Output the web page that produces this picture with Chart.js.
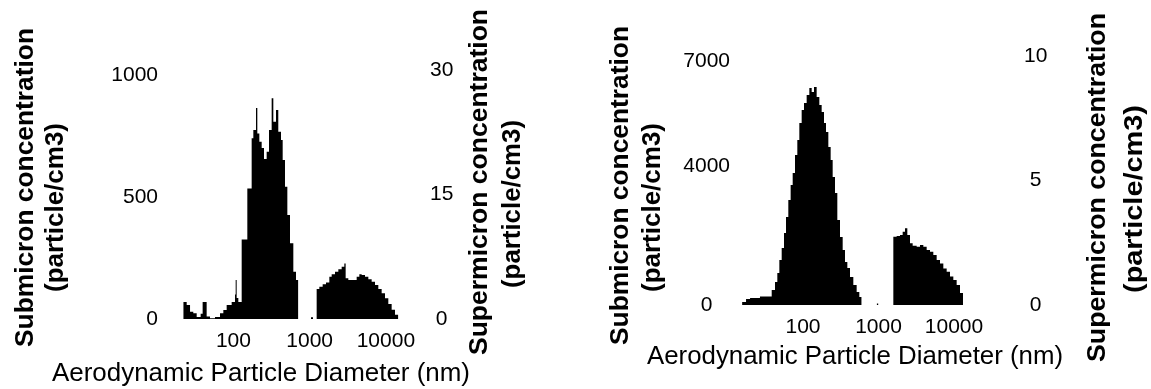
<!DOCTYPE html>
<html>
<head>
<meta charset="utf-8">
<title>Particle size distributions</title>
<script src="https://cdn.jsdelivr.net/npm/chart.js@4.4.1/dist/chart.umd.min.js"></script>
<style>
  html, body { margin: 0; padding: 0; background: #fff; }
  body { width: 1151px; height: 389px; position: relative; overflow: hidden; }
  canvas { position: absolute; top: 0; }
  #leftPanel { left: 0; }
  #rightPanel { left: 575px; }
</style>
</head>
<body>
<canvas id="leftPanel" width="575" height="389"></canvas>
<canvas id="rightPanel" width="576" height="389"></canvas>
<script>
// --- data: bin left edges (nm) and concentrations ---
const xTicks = [100, 1000, 10000];

// left panel
const p1SubD = [22.0, 24.4, 27.0, 29.8, 33.0, 37.2, 39.5, 44.6, 49.3, 57.4, 66.7, 73.8, 81.6, 94.9, 105, 107.1, 110.4, 116.1, 128.4, 152.3, 173.6, 182.6, 197.9, 206, 218.9, 234.9, 251.9, 273.1, 293.1, 317.6, 334, 362, 388, 421, 443, 475, 510, 553, 611, 662, 711];
const p1SubN = [70, 57, 30, 24, 8, 21, 70, 10, 3, 8, 24, 37, 57, 70, 100, 160, 86, 70, 326, 535, 740, 774, 864, 760, 726, 700, 655, 685, 774, 904, 808, 856, 767, 733, 651, 542, 426, 310, 194, 160, 0];
const p1SupD = [1041, 1107, 1236, 1340, 1482, 1638, 1812, 1945, 2150, 2378, 2630, 2850, 2967, 3216, 3557, 4138, 4483, 4812, 5320, 5884, 6507, 7195, 7956, 8800, 9732, 10760, 11900, 13165, 14555];
const p1SupN = [0.2, 0, 3.6, 3.9, 4.2, 4.4, 5.1, 5.4, 5.7, 6.0, 6.3, 6.7, 4.9, 4.7, 4.7, 5.1, 5.4, 5.3, 5.1, 4.8, 4.5, 4.1, 3.6, 3.1, 2.5, 1.8, 1.1, 0.5, 0];
const p1LeftTicks = [0, 500, 1000];
const p1RightTicks = [0, 15, 30];

// right panel
const p2SubD = [15.6, 17.6, 19.9, 26.9, 38.5, 42.6, 45.7, 48.6, 52.2, 56.0, 59.5, 63.9, 68.6, 73.0, 78.3, 84.1, 89.4, 96.0, 103.1, 111.8, 121.3, 130.3, 139.8, 151.7, 164.6, 176.7, 189.7, 201.6, 216.6, 232.5, 247.2, 265.3, 284.9, 309.2, 335.4, 360.0, 386.6, 419.3, 464.1, 513.8, 557.3, 598.6];
const p2SubN = [86, 172, 201, 244, 431, 661, 919, 1292, 1637, 2068, 2527, 3016, 3446, 3791, 4308, 4739, 5227, 5600, 5801, 6031, 6232, 6117, 6261, 5974, 5744, 5543, 5227, 4969, 4538, 4164, 3676, 3217, 2441, 1953, 1580, 1235, 1063, 804, 574, 373, 230, 0];
const p2SupD = [946, 991, 1572, 1740, 1927, 2090, 2244, 2409, 2614, 2835, 3203, 3545, 3925, 4345, 4810, 5323, 5894, 6523, 7223, 7997, 8852, 9799, 10847, 12010, 13160];
const p2SupN = [0.06, 0, 2.74, 2.77, 2.81, 2.94, 3.08, 2.81, 2.48, 2.38, 2.34, 2.41, 2.34, 2.21, 2.14, 2.01, 1.81, 1.67, 1.47, 1.34, 1.14, 1.0, 0.8, 0.48, 0];
const p2LeftTicks = [0, 4000, 7000];
const p2RightTicks = [0, 5, 10];

const FONT = '"Liberation Sans", Arial, sans-serif';

function toPoints(d, n) {
    return d.map((v, i) => ({ x: v, y: n[i] }));
}

// axis titles are drawn by hand: the reference has both y titles reading bottom-to-top
const panelTitles = {
    id: 'panelTitles',
    afterDraw(chart, args, opts) {
        const ctx = chart.ctx;
        (opts.items || []).forEach(t => {
            ctx.save();
            ctx.font = (t.bold ? 'bold ' : '') + t.size + 'px ' + FONT;
            ctx.fillStyle = '#000';
            ctx.textAlign = 'center';
            ctx.textBaseline = 'alphabetic';
            ctx.translate(t.x, t.y);
            if (t.rotate) ctx.rotate(-Math.PI / 2);
            const w = ctx.measureText(t.text).width;
            ctx.scale(t.len / w, 1); // stretch to the length seen in the picture
            ctx.fillText(t.text, 0, 0);
            ctx.restore();
        });
    }
};

function histStyle(color) {
    return {
        stepped: true,
        fill: 'start',
        backgroundColor: color,
        borderColor: 'rgba(0,0,0,0)',
        borderWidth: 0,
        pointRadius: 0,
        pointHoverRadius: 0,
        pointHitRadius: 0
    };
}

function makePanel(id, p) {
    const tickFont = { family: FONT, size: 21 };
    return new Chart(document.getElementById(id), {
        type: 'line',
        data: {
            datasets: [
                Object.assign({ label: 'Submicron', data: toPoints(p.subD, p.subN), yAxisID: 'y' }, histStyle('#000')),
                Object.assign({ label: 'Supermicron', data: toPoints(p.supD, p.supN), yAxisID: 'y1' }, histStyle('#000'))
            ]
        },
        options: {
            responsive: false,
            animation: false,
            events: [],
            layout: { padding: { top: p.top, left: 0, right: 0, bottom: 0 }, autoPadding: false },
            plugins: {
                legend: { display: false },
                tooltip: { enabled: false },
                panelTitles: { items: p.titles }
            },
            scales: {
                x: {
                    type: 'logarithmic',
                    min: p.xMin,
                    max: p.xMax,
                    afterBuildTicks: s => { s.ticks = xTicks.map(v => ({ value: v })); },
                    afterFit: s => { s.height = p.xH; },
                    grid: { display: false, drawTicks: false },
                    border: { display: false },
                    ticks: {
                        autoSkip: false, maxRotation: 0, padding: 10,
                        color: '#000', font: tickFont,
                        callback: v => String(v)
                    }
                },
                y: {
                    position: 'left',
                    min: 0,
                    max: p.leftMax,
                    afterBuildTicks: s => { s.ticks = p.leftTicks.map(v => ({ value: v })); },
                    afterFit: s => { s.width = p.leftW; },
                    grid: { display: false, drawTicks: false },
                    border: { display: false },
                    ticks: {
                        autoSkip: false, padding: p.leftPad, crossAlign: p.leftAlign,
                        color: '#000', font: tickFont,
                        callback: v => String(v)
                    }
                },
                y1: {
                    position: 'right',
                    min: 0,
                    max: p.rightMax,
                    afterBuildTicks: s => { s.ticks = p.rightTicks.map(v => ({ value: v })); },
                    afterFit: s => { s.width = p.rightW; },
                    grid: { display: false, drawTicks: false },
                    border: { display: false },
                    ticks: {
                        autoSkip: false, padding: p.rightPad, crossAlign: 'center',
                        color: '#000', font: tickFont,
                        callback: v => String(v)
                    }
                }
            }
        },
        plugins: [panelTitles]
    });
}

makePanel('leftPanel', {
    subD: p1SubD, subN: p1SubN, supD: p1SupD, supN: p1SupN,
    leftTicks: p1LeftTicks, rightTicks: p1RightTicks,
    xMin: 19.94, xMax: 22000, leftMax: 1020, rightMax: 30,
    top: 70, xH: 70, leftW: 180, rightW: 163,
    leftPad: 22, leftAlign: 'near', rightPad: 18,
    titles: [
        { text: 'Submicron concentration', bold: true, rotate: true, size: 26, x: 33, y: 187.5, len: 319 },
        { text: '(particle/cm3)', bold: true, rotate: true, size: 26, x: 62.5, y: 207.5, len: 169 },
        { text: 'Supermicron concentration', bold: true, rotate: true, size: 26, x: 486.5, y: 182, len: 346 },
        { text: '(particle/cm3)', bold: true, rotate: true, size: 26, x: 519.5, y: 204, len: 168 },
        { text: 'Aerodynamic Particle Diameter (nm)', size: 26, x: 261, y: 381, len: 418 }
    ]
});

makePanel('rightPanel', {
    subD: p2SubD, subN: p2SubN, supD: p2SupD, supN: p2SupN,
    leftTicks: p2LeftTicks, rightTicks: p2RightTicks,
    xMin: 14.64, xMax: 47380, leftMax: 7152, rightMax: 10,
    top: 56, xH: 84, leftW: 165, rightW: 146,
    leftPad: 10, leftAlign: 'center', rightPad: 19,
    titles: [
        { text: 'Submicron concentration', bold: true, rotate: true, size: 26, x: 53, y: 185.5, len: 319 },
        { text: '(particle/cm3)', bold: true, rotate: true, size: 26, x: 84.5, y: 207.5, len: 169 },
        { text: 'Supermicron concentration', bold: true, rotate: true, size: 26, x: 529.5, y: 187.5, len: 349 },
        { text: '(particle/cm3)', bold: true, rotate: true, size: 26, x: 566.5, y: 199, len: 188 },
        { text: 'Aerodynamic Particle Diameter (nm)', size: 26, x: 280, y: 364, len: 416 }
    ]
});
</script>
</body>
</html>
